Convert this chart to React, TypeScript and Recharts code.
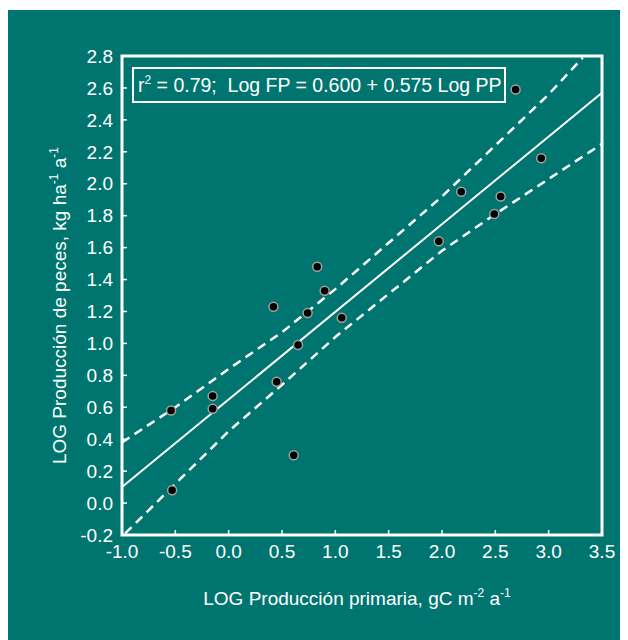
import { ComposedChart, Label, Line, ReferenceArea, Scatter, XAxis, YAxis } from "recharts";

const xTicks = [-1, -0.5, 0, 0.5, 1, 1.5, 2, 2.5, 3, 3.5];
const yTicks = [-0.2, 0, 0.2, 0.4, 0.6, 0.8, 1, 1.2, 1.4, 1.6, 1.8, 2, 2.2, 2.4, 2.6, 2.8];

// LOG primary production (x) vs LOG fish production (y)
const lakes = [
  { x: 2.69, y: 2.59 },
  { x: 2.93, y: 2.16 },
  { x: 2.18, y: 1.95 },
  { x: 2.55, y: 1.92 },
  { x: 2.49, y: 1.81 },
  { x: 1.97, y: 1.64 },
  { x: 0.83, y: 1.48 },
  { x: 0.9, y: 1.33 },
  { x: 0.42, y: 1.23 },
  { x: 0.74, y: 1.19 },
  { x: 1.06, y: 1.16 },
  { x: 0.65, y: 0.99 },
  { x: 0.45, y: 0.76 },
  { x: -0.15, y: 0.67 },
  { x: -0.15, y: 0.59 },
  { x: -0.54, y: 0.58 },
  { x: 0.61, y: 0.3 },
  { x: -0.53, y: 0.08 },
];

const fitLine = [
  { x: -1, y: 0.1 },
  { x: 3.5, y: 2.57 },
];

const upperBand = [
  { x: -1, y: 0.38 },
  { x: -0.5, y: 0.6 },
  { x: 0, y: 0.84 },
  { x: 0.5, y: 1.07 },
  { x: 1, y: 1.34 },
  { x: 1.5, y: 1.63 },
  { x: 2, y: 1.92 },
  { x: 2.5, y: 2.24 },
  { x: 3, y: 2.56 },
  { x: 3.32, y: 2.79 },
];

const lowerBand = [
  { x: -0.97, y: -0.19 },
  { x: -0.5, y: 0.12 },
  { x: 0, y: 0.45 },
  { x: 0.5, y: 0.74 },
  { x: 1, y: 1.04 },
  { x: 1.5, y: 1.31 },
  { x: 2, y: 1.58 },
  { x: 2.5, y: 1.81 },
  { x: 3, y: 2.03 },
  { x: 3.5, y: 2.25 },
];

const font = "'Liberation Sans', Arial, sans-serif";
const teal = "#00756f";
const tickStyle = { fill: "#fff", fontSize: 19, fontFamily: font };

const Dot = (p: any) => (
  <circle cx={p.cx} cy={p.cy} r={4.5} fill="#000" stroke="#a0a0a0" strokeWidth={1.5} />
);

const XTitle = (p: any) => {
  const vb = p.viewBox;
  return (
    <text x={vb.x + vb.width / 2 - 5} y={vb.y + 70} textAnchor="middle" fill="#fff" fontSize={19} fontFamily={font}>
      LOG Producción primaria, gC m
      <tspan dy={-8} fontSize={12}>-2</tspan>
      <tspan dy={8}> a</tspan>
      <tspan dy={-8} fontSize={12}>-1</tspan>
    </text>
  );
};

const YTitle = (p: any) => {
  const vb = p.viewBox;
  const cx = vb.x + 4;
  const cy = vb.y + vb.height / 2 + 10;
  return (
    <text
      x={cx}
      y={cy}
      transform={`rotate(-90 ${cx} ${cy})`}
      textAnchor="middle"
      fill="#fff"
      fontSize={19}
      fontFamily={font}
    >
      LOG Producción de peces, kg ha
      <tspan dy={-8} fontSize={12}>-1</tspan>
      <tspan dy={8}> a</tspan>
      <tspan dy={-8} fontSize={12}>-1</tspan>
    </text>
  );
};

export default function App() {
  return (
    <div style={{ position: "relative", width: 620, height: 630, marginTop: 2, background: teal }}>
      <ComposedChart width={620} height={630} margin={{ top: 46, right: 26, left: 54, bottom: 65 }}>
        <XAxis
          type="number"
          dataKey="x"
          domain={[-1, 3.5]}
          ticks={xTicks}
          allowDataOverflow
          height={40}
          tickFormatter={(v: number) => v.toFixed(1)}
          tick={tickStyle}
          axisLine={false}
          tickLine={{ stroke: "#fff", strokeWidth: 1.5 }}
          tickSize={-5}
          tickMargin={15}
        >
          <Label content={XTitle} />
        </XAxis>
        <YAxis
          type="number"
          dataKey="y"
          domain={[-0.2, 2.8]}
          ticks={yTicks}
          allowDataOverflow
          width={60}
          tickFormatter={(v: number) => v.toFixed(1)}
          tick={tickStyle}
          axisLine={false}
          tickLine={{ stroke: "#fff", strokeWidth: 1.5 }}
          tickSize={-5}
          tickMargin={14}
        >
          <Label content={YTitle} />
        </YAxis>
        <ReferenceArea x1={-1} x2={3.5} y1={-0.2} y2={2.8} fill="none" stroke="#fff" strokeWidth={3} ifOverflow="visible" />
        <Line data={upperBand} dataKey="y" type="linear" stroke="#fff" strokeWidth={2.5} strokeDasharray="9 6" dot={false} isAnimationActive={false} />
        <Line data={lowerBand} dataKey="y" type="linear" stroke="#fff" strokeWidth={2.5} strokeDasharray="9 6" dot={false} isAnimationActive={false} />
        <Line data={fitLine} dataKey="y" type="linear" stroke="#fff" strokeWidth={2} dot={false} isAnimationActive={false} />
        <Scatter data={lakes} dataKey="y" shape={Dot} isAnimationActive={false} />
      </ComposedChart>
      <div
        style={{
          position: "absolute",
          left: 124,
          top: 57,
          width: 366,
          height: 32,
          border: "2px solid #fff",
          color: "#fff",
          fontFamily: font,
          fontSize: 19.5,
          lineHeight: "32px",
          paddingLeft: 4,
          whiteSpace: "pre",
          boxSizing: "content-box",
        }}
      >
        r<sup style={{ fontSize: 12, verticalAlign: 0, position: "relative", top: -8 }}>2</sup> = 0.79;  Log FP = 0.600 + 0.575 Log PP
      </div>
    </div>
  );
}
